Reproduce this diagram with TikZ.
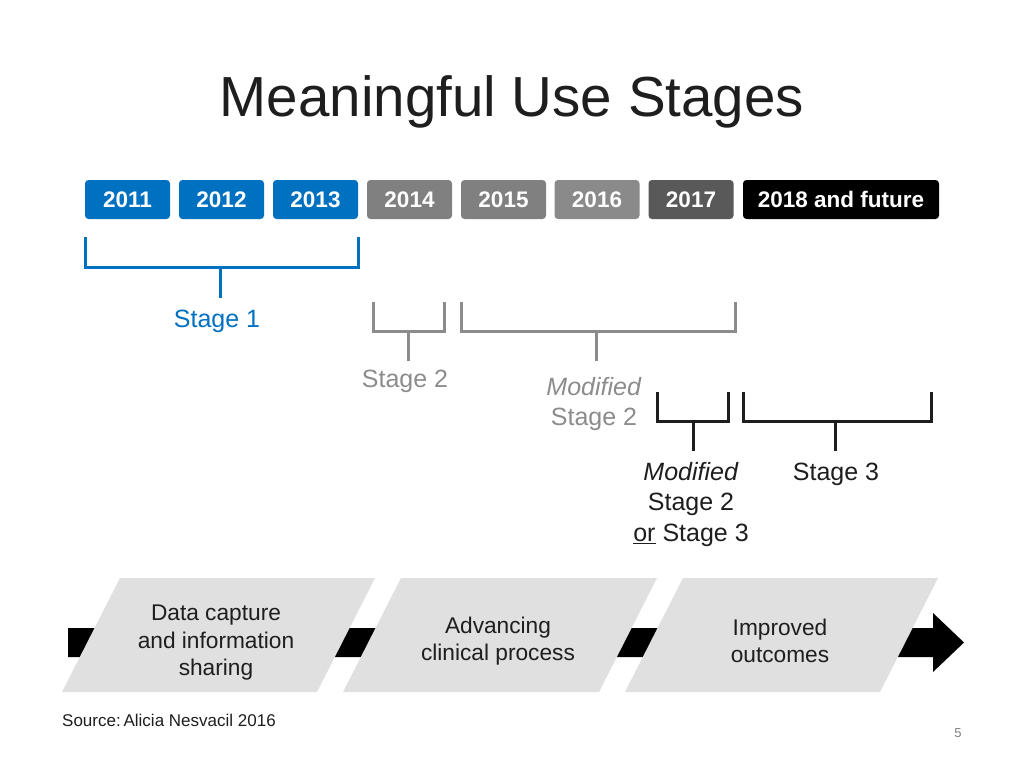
\documentclass[tikz,border=0pt]{standalone}
\usepackage{fontspec}
\setmainfont{Liberation Sans}
\definecolor{mublue}{HTML}{0070C0}
\definecolor{g1}{HTML}{808080}
\definecolor{g2}{HTML}{8A8A8A}
\definecolor{g3}{HTML}{595959}
\definecolor{lgray}{HTML}{8C8C8C}
\definecolor{pgray}{HTML}{E0E0E0}
\definecolor{txt}{HTML}{1E1E1E}
\tikzset{
  year/.style={rounded corners=3.5pt, minimum width=85pt, minimum height=39pt, inner sep=0pt,
    font=\fontsize{22.5}{22.5}\selectfont\bfseries, text=white},
  brk/.style={line width=3pt, line cap=butt, line join=miter},
  lab/.style={font=\fontsize{25}{30.5}\selectfont, align=center, inner sep=0pt},
  para/.style={fill=pgray, draw=none},
  ptext/.style={font=\fontsize{22.7}{27.5}\selectfont, align=center, text=txt, inner sep=0pt}
}
\begin{document}
\begin{tikzpicture}[x=1pt,y=-1pt]
\useasboundingbox[fill=white] (0,0) rectangle (1024,768);

% title
\node[font=\fontsize{56.5}{56.5}\selectfont, text=txt] (title) at (512,102) {Meaningful Use Stages};

% year boxes
\node[year, fill=mublue] (y11) at (127.5,199.5) {2011};
\node[year, fill=mublue] (y12) at (221.5,199.5) {2012};
\node[year, fill=mublue] (y13) at (315.5,199.5) {2013};
\node[year, fill=g1] (y14) at (409.5,199.5) {2014};
\node[year, fill=g1] (y15) at (503.5,199.5) {2015};
\node[year, fill=g2] (y16) at (597,199.5) {2016};
\node[year, fill=g3] (y17) at (691,199.5) {2017};
\node[year, fill=black, minimum width=196pt] (y18) at (841,199.5) {2018 and future};

% Stage 1
\draw[brk, mublue] (85,237) -- (85,267) -- (358,267) -- (358,237);
\node[lab, text=mublue] (s1) at (217,321) {Stage 1};
\draw[brk, mublue] (220,267) -- (220,298);

% Stage 2
\draw[brk, lgray] (373,302) -- (373,331) -- (444,331) -- (444,302);
\node[lab, text=lgray] (s2) at (405,381) {Stage 2};
\draw[brk, lgray] (408,331) -- (408,361);

% Modified Stage 2
\draw[brk, lgray] (461,302) -- (461,331) -- (735,331) -- (735,302);
\node[lab, text=lgray, anchor=north] (ms2) at (594,377) {\textit{Modified}\\Stage 2};
\draw[brk, lgray] (596,331) -- (596,361);

% Modified Stage 2 or Stage 3
\draw[brk, txt] (657,392) -- (657,421) -- (728,421) -- (728,392);
\node[lab, text=txt, anchor=north] (ms23) at (691,462) {\textit{Modified}\\Stage 2\\\underline{or} Stage 3};
\draw[brk, txt] (693,421) -- (693,451);

% Stage 3
\draw[brk, txt] (743,392) -- (743,421) -- (931,421) -- (931,392);
\node[lab, text=txt] (s3) at (836,474) {Stage 3};
\draw[brk, txt] (835,421) -- (835,451);

% bottom arrow
\fill[black] (68,628) -- (933,628) -- (933,613) -- (964,642.5) -- (933,672) -- (933,657) -- (68,657) -- cycle;

% parallelograms
\fill[para] (62,692) -- (120,578) -- (375,578) -- (317,692) -- cycle;
\fill[para] (343,692) -- (401,578) -- (657,578) -- (599,692) -- cycle;
\fill[para] (625,692) -- (683,578) -- (938,578) -- (880,692) -- cycle;

\node[ptext] (p1) at (216,643) {Data capture\\and information\\sharing};
\node[ptext] (p2) at (498,641) {Advancing\\clinical process};
\node[ptext] (p3) at (780,641) {Improved\\outcomes};

% source and page number
\node[anchor=west, font=\fontsize{17}{17}\selectfont, text=txt, inner sep=0pt] (src) at (62,720) {Source:\,Alicia Nesvacil 2016};
\node[font=\fontsize{13}{13}\selectfont, text=g1, inner sep=0pt] (pg) at (958,733) {5};
\end{tikzpicture}
\end{document}
